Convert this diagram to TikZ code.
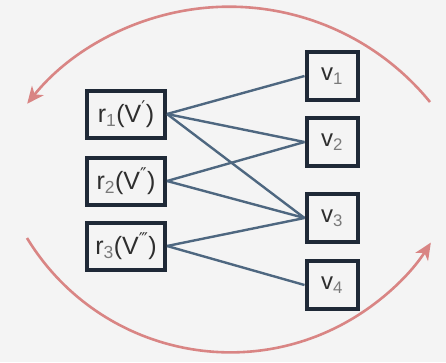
\documentclass[tikz,border=0pt]{standalone}
\usepackage{fontspec}
\setmainfont{Liberation Sans}
\newfontfamily\primefont{DejaVu Sans}
\usetikzlibrary{arrows.meta}
\definecolor{bg}{HTML}{F4F4F4}
\definecolor{boxline}{HTML}{1F2937}
\definecolor{edge}{HTML}{4E6780}
\definecolor{loop}{HTML}{D98584}
\definecolor{txt}{HTML}{2E2E2E}
\definecolor{sub}{HTML}{7A7A7A}
\newcommand{\sbs}[1]{\textsubscript{\textcolor{sub}{#1}}}
\newcommand{\prm}[1]{\textsuperscript{\primefont #1}}
\begin{document}
\begin{tikzpicture}[x=1pt,y=-1pt,
  rbox/.style={draw=boxline, line width=4pt, fill=bg, minimum width=78pt,
    minimum height=47pt, inner sep=0pt, text=txt,
    font=\fontsize{25}{28}\selectfont},
  vbox/.style={draw=boxline, line width=4pt, fill=bg, minimum width=51pt,
    minimum height=48pt, inner sep=0pt, text=txt,
    font=\fontsize{24}{28}\selectfont},
  link/.style={draw=edge, line width=2.4pt},
  cycle/.style={draw=loop, line width=2.6pt,
    -{Stealth[length=17pt, width=15pt, inset=5pt]}}]
  \fill[bg] (0,0) rectangle (446,362);
  \useasboundingbox (0,0) rectangle (446,362);

  % feature boxes on the left
  \node[rbox] (r1) at (126,114) {\makebox[0pt]{r\sbs{1}(V\prm{′})}};
  \node[rbox] (r2) at (126,181) {\makebox[0pt]{r\sbs{2}(V\prm{″})}};
  \node[rbox] (r3) at (126,246) {\makebox[0pt]{r\sbs{3}(V\prm{‴})}};

  % value boxes on the right
  \node[vbox] (v1) at (332,76)  {v\sbs{1}};
  \node[vbox] (v2) at (332,142) {v\sbs{2}};
  \node[vbox] (v3) at (332,218) {v\sbs{3}};
  \node[vbox] (v4) at (332,285) {v\sbs{4}};

  % bipartite links
  \path[link] (r1.east) -- (v1.west);
  \path[link] (r1.east) -- (v2.west);
  \path[link] (r1.east) -- (v3.west);
  \path[link] (r2.east) -- (v2.west);
  \path[link] (r2.east) -- (v3.west);
  \path[link] (r3.east) -- (v3.west);
  \path[link] (r3.east) -- (v4.west);

  % circular arrows around the graph
  \coordinate (topstart) at (430,102);
  \coordinate (botstart) at (27,238);
  \draw[cycle] (topstart) arc[start angle=-39.2, end angle=-141.3, radius=259];
  \draw[cycle] (botstart) arc[start angle=148.7, end angle=32.6, radius=238];
\end{tikzpicture}
\end{document}
